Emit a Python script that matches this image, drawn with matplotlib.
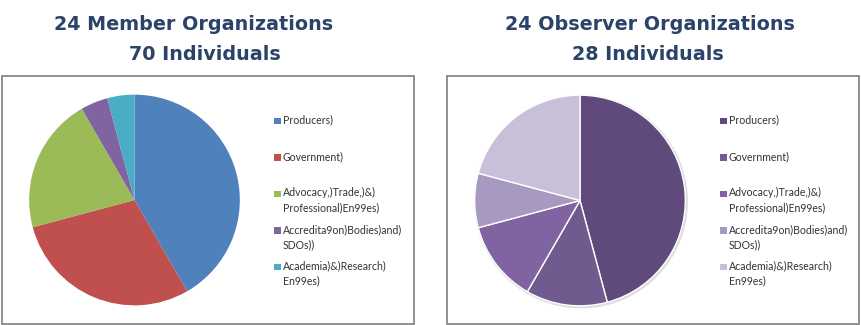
import matplotlib
matplotlib.use('Agg')
import matplotlib.pyplot as plt
from matplotlib.patches import Rectangle, Circle

categories = [
    'Producers)',
    'Government)',
    'Advocacy,)Trade,)&)\nProfessional)En99es)',
    'Accredita9on)Bodies)and)\nSDOs))',
    'Academia)&)Research)\nEn99es)',
]
member_counts = [10, 7, 5, 1, 1]
observer_counts = [11, 3, 3, 2, 5]

member_titles = ['24 Member Organizations', '70 Individuals']
observer_titles = ['24 Observer Organizations', '28 Individuals']

member_colors = ['#4F81BD', '#C0504D', '#9BBB59', '#8064A2', '#4BACC6']
observer_colors = ['#5F4A7B', '#705A8E', '#8064A2', '#A799BF', '#C8C0D8']

W, H = 861, 325
TITLE_COLOR = '#2B4269'
TEXT_COLOR = '#333333'
BOX_COLOR = '#878787'


def fx(px):
    return px / W


def fy(py):
    # py measured from the top of the picture
    return 1 - py / H


def draw_box(fig, x0, x1, y0, y1):
    rect = Rectangle((fx(x0), fy(y1)), fx(x1 - x0), (y1 - y0) / H,
                     transform=fig.transFigure, fill=False,
                     edgecolor=BOX_COLOR, linewidth=1.3)
    fig.patches.append(rect)


def draw_pie(fig, cx, cy, r, counts, colors, edge=None, shadow=False):
    ax = fig.add_axes([fx(cx - r), fy(cy + r), fx(2 * r), 2 * r / H])
    if shadow:
        ax.add_patch(Circle((0.01, -0.01), 1.008, color='#dedede', zorder=0))
    wedgeprops = {'linewidth': 1.0, 'edgecolor': edge} if edge else {'linewidth': 0}
    ax.pie(counts, colors=colors, startangle=90, counterclock=False,
           radius=1, wedgeprops=wedgeprops)
    ax.set_xlim(-1.03, 1.03)
    ax.set_ylim(-1.03, 1.03)
    ax.set_aspect('equal')
    ax.axis('off')


def draw_legend(fig, x_sq, colors):
    for i, (label, color) in enumerate(zip(categories, colors)):
        y = 120.7 + 36.6 * i
        fig.patches.append(Rectangle((fx(x_sq), fy(y + 3.3)), fx(6.5), 6.5 / H,
                                     transform=fig.transFigure,
                                     facecolor=color, edgecolor='none'))
        fig.text(fx(x_sq + 8.5), fy(y - 6.5), label, ha='left', va='top',
                 fontsize=7.6, family='Lato', color=TEXT_COLOR,
                 linespacing=1.45)


def draw_title(fig, lines, centers):
    for (line, (cx, cy)) in zip(lines, centers):
        fig.text(fx(cx), fy(cy), line, ha='center', va='center',
                 fontsize=13.8, fontweight='bold', family='DejaVu Sans',
                 color=TITLE_COLOR)


fig = plt.figure(figsize=(W / 100, H / 100), dpi=100)
fig.patch.set_facecolor('white')

draw_title(fig, member_titles, [(193.5, 25), (204.5, 55)])
draw_title(fig, observer_titles, [(650, 25), (648, 55)])

draw_box(fig, 2, 414, 76, 323.5)
draw_box(fig, 447.5, 859.5, 76, 323.5)

draw_pie(fig, 134.5, 200, 108.5, member_counts, member_colors)
draw_pie(fig, 580, 200.5, 108.5, observer_counts, observer_colors,
         edge='white', shadow=True)

draw_legend(fig, 274, member_colors)
draw_legend(fig, 720, observer_colors)

fig.savefig('out.png', dpi=100, facecolor='white')
